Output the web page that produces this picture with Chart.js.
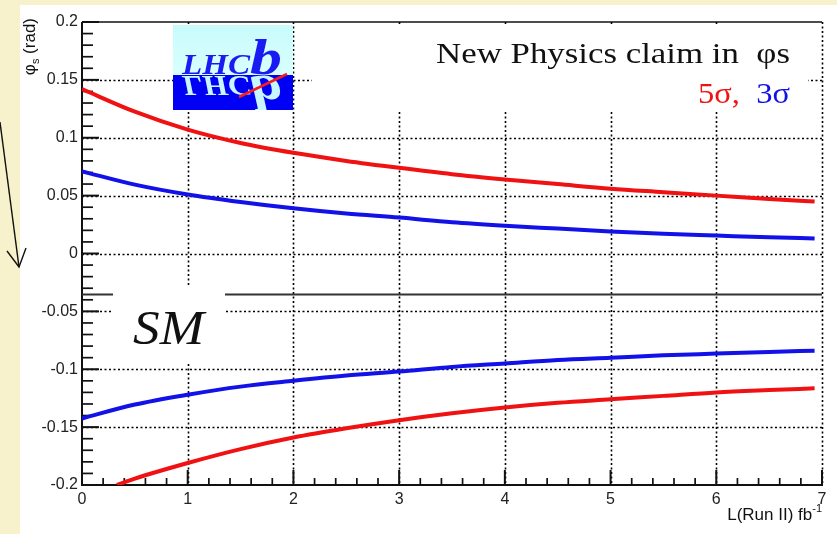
<!DOCTYPE html>
<html>
<head>
<meta charset="utf-8">
<script src="https://cdn.jsdelivr.net/npm/chart.js@4"></script>
<style>
  html, body { margin: 0; padding: 0; background: #f7f1cc; overflow: hidden; }
  canvas { display: block; }
</style>
</head>
<body>
<canvas id="c" width="837" height="534"></canvas>
<script>
// Integrated Run II luminosity (fb^-1) at which each band edge is sampled
const lumi      = [0, 0.5, 1, 1.5, 2, 2.5, 3, 3.5, 4, 4.5, 5, 5.5, 6, 6.5, 6.93];
const lumiLow5  = [0.33, 0.5, 1, 1.5, 2, 2.5, 3, 3.5, 4, 4.5, 5, 5.5, 6, 6.5, 6.93];

// phi_s (rad) needed for a New Physics claim
const upper5sigma = [0.142, 0.1225, 0.107, 0.0955, 0.087, 0.080, 0.074, 0.0685, 0.064, 0.060, 0.056, 0.053, 0.050, 0.047, 0.045];
const upper3sigma = [0.071, 0.0595, 0.051, 0.0445, 0.039, 0.0345, 0.031, 0.027, 0.024, 0.0215, 0.019, 0.017, 0.0155, 0.014, 0.013];
const lower3sigma = [-0.1425, -0.1305, -0.122, -0.115, -0.110, -0.1055, -0.102, -0.098, -0.095, -0.092, -0.090, -0.088, -0.0865, -0.085, -0.084];
const lower5sigma = [-0.200, -0.1945, -0.181, -0.169, -0.159, -0.151, -0.144, -0.138, -0.133, -0.129, -0.126, -0.123, -0.120, -0.118, -0.1165];

// Standard Model expectation
const smPhi = -0.0355;

// Axis ticks
const xTickValues = [0, 1, 2, 3, 4, 5, 6, 7];
const xTickLabels = ['0', '1', '2', '3', '4', '5', '6', '7'];
const yTickValues = [-0.2, -0.15, -0.1, -0.05, 0, 0.05, 0.1, 0.15, 0.2];
const yTickLabels = ['-0.2', '-0.15', '-0.1', '-0.05', '0', '0.05', '0.1', '0.15', '0.2'];

const RED = 'rgb(240,18,18)';
const BLUE = 'rgb(18,18,232)';
const SANS = '"Liberation Sans", Arial, sans-serif';
const SERIF = '"Liberation Serif", "DejaVu Serif", serif';

function line(ctx, x1, y1, x2, y2) {
  ctx.beginPath(); ctx.moveTo(x1, y1); ctx.lineTo(x2, y2); ctx.stroke();
}

// Draw text squeezed/stretched horizontally to a given width
function fitText(ctx, str, x, y, width, align) {
  const w = ctx.measureText(str).width;
  const k = width / w;
  ctx.save();
  ctx.translate(align === 'right' ? x - width : x, y);
  ctx.scale(k, 1);
  ctx.textAlign = 'left';
  ctx.fillText(str, 0, 0);
  ctx.restore();
}

const slideDecor = {
  id: 'slideDecor',
  beforeDraw(chart) {
    const ctx = chart.ctx;
    ctx.save();
    ctx.fillStyle = '#f7f1cc';
    ctx.fillRect(0, 0, chart.width, chart.height);
    ctx.fillStyle = '#ffffff';
    ctx.fillRect(20, 5, chart.width - 20, chart.height - 5);
    // pointer arrow in the margin
    ctx.strokeStyle = '#111';
    ctx.lineWidth = 1.4;
    line(ctx, 0, 122, 19, 267);
    ctx.beginPath();
    ctx.moveTo(7, 251); ctx.lineTo(19, 267); ctx.lineTo(26, 248);
    ctx.stroke();
    ctx.restore();
  },
  beforeDatasetsDraw(chart) {
    const { ctx, chartArea: a, scales: { x, y } } = chart;
    ctx.save();
    // dotted grid at major ticks
    ctx.strokeStyle = '#000';
    ctx.lineWidth = 1.6;
    ctx.setLineDash([2, 2.5]);
    xTickValues.slice(1).forEach(v => {
      const px = Math.round(x.getPixelForValue(v)) + 0.5;
      line(ctx, px, a.top, px, a.bottom);
    });
    yTickValues.slice(1, -1).forEach(v => {
      const py = Math.round(y.getPixelForValue(v)) + 0.5;
      line(ctx, a.left, py, a.right, py);
    });
    ctx.setLineDash([]);
    // frame
    ctx.strokeStyle = '#111';
    ctx.lineWidth = 1.5;
    line(ctx, a.left, a.top, a.right, a.top);
    ctx.lineWidth = 2;
    line(ctx, a.left, a.top, a.left, a.bottom + 1);
    line(ctx, a.left - 1, a.bottom, a.right + 1, a.bottom);
    // y ticks: major every 0.05, minor every 0.01
    for (let i = -20; i <= 20; i++) {
      const py = y.getPixelForValue(i / 100);
      const major = i % 5 === 0;
      ctx.lineWidth = major ? 2 : 1.7;
      line(ctx, a.left, py, a.left + (major ? 17 : 11), py);
    }
    // x ticks: major every 1, minor every 0.2
    for (let i = 0; i <= 35; i++) {
      const px = x.getPixelForValue(i / 5);
      const major = i % 5 === 0;
      ctx.lineWidth = major ? 2 : 1.7;
      line(ctx, px, a.bottom, px, a.bottom - (major ? 15 : 7));
    }
    ctx.restore();
  },
  afterDatasetsDraw(chart) {
    const { ctx, chartArea: a } = chart;
    ctx.save();

    // SM label
    ctx.fillStyle = '#fff';
    ctx.fillRect(113, 286, 112, 77);
    ctx.fillStyle = '#111';
    ctx.font = `italic 48px ${SERIF}`;
    ctx.textBaseline = 'alphabetic';
    fitText(ctx, 'SM', 133, 344, 71, 'left');

    // legend panel
    ctx.fillStyle = '#fff';
    ctx.fillRect(312, 24, 496, 88);
    ctx.font = `30px ${SERIF}`;
    ctx.fillStyle = '#111';
    fitText(ctx, 'New Physics claim in  \u03C6s', 790, 63, 354, 'right');
    const partB = '3\u03C3';
    const partA = '5\u03C3,  ';
    const wA = ctx.measureText(partA).width, wB = ctx.measureText(partB).width;
    const k = 92 / (wA + wB);
    ctx.save();
    ctx.translate(790 - 92, 103);
    ctx.scale(k, 1);
    ctx.fillStyle = RED; ctx.fillText(partA, 0, 0);
    ctx.fillStyle = BLUE; ctx.fillText(partB, wA, 0);
    ctx.restore();

    // experiment logo
    const lx = 173, ly = 25, lw = 120, mid = 75, lb = 110;
    const g = ctx.createLinearGradient(0, ly, 0, mid);
    g.addColorStop(0, '#c9fbfb'); g.addColorStop(1, '#d8ffff');
    ctx.fillStyle = g;
    ctx.fillRect(lx, ly, lw, mid - ly);
    ctx.fillStyle = '#0000f4';
    ctx.fillRect(lx, mid, lw, lb - mid);
    const base = mid - 1;
    const drawLogoText = (color) => {
      ctx.fillStyle = color;
      ctx.font = `italic bold 30px ${SERIF}`;
      const wL = ctx.measureText('LHC').width;
      ctx.save(); ctx.translate(182, base); ctx.scale(68 / wL, 1); ctx.fillText('LHC', 0, 0); ctx.restore();
      ctx.font = `italic bold 50px ${SERIF}`;
      const wb = ctx.measureText('b').width;
      ctx.save(); ctx.translate(250, base); ctx.scale(32 / wb, 1); ctx.fillText('b', 0, 0); ctx.restore();
    };
    ctx.save();
    ctx.beginPath(); ctx.rect(lx, ly, lw, mid - ly); ctx.clip();
    drawLogoText('#1a1af2');
    ctx.restore();
    ctx.save();
    ctx.beginPath(); ctx.rect(lx, mid, lw, lb - mid); ctx.clip();
    ctx.translate(0, 2 * mid); ctx.scale(1, -1);
    drawLogoText('#c8f6ff');
    ctx.restore();
    ctx.strokeStyle = 'rgb(245,30,30)';
    ctx.lineWidth = 2.5;
    line(ctx, 239, 97, 287, 74);

    // axis titles
    ctx.fillStyle = '#111';
    ctx.textBaseline = 'alphabetic';
    ctx.font = `11px ${SANS}`;
    const wSup = ctx.measureText('-1').width;
    ctx.textAlign = 'right';
    ctx.fillText('-1', a.right, 512);
    ctx.font = `17px ${SANS}`;
    ctx.fillText('L(Run II) fb', a.right - wSup, 520);

    ctx.save();
    ctx.translate(35, 18);
    ctx.rotate(-Math.PI / 2);
    ctx.textAlign = 'left';
    ctx.font = `17px ${SANS}`;
    const wPhi = ctx.measureText('\u03C6').width;
    const wRad = ctx.measureText(' (rad)').width;
    ctx.font = `11px ${SANS}`;
    const wS = ctx.measureText('s').width;
    let px = -(wPhi + wS + wRad);
    ctx.font = `17px ${SANS}`;
    ctx.fillText('\u03C6', px, 0); px += wPhi;
    ctx.font = `11px ${SANS}`;
    ctx.fillText('s', px, 4); px += wS;
    ctx.font = `17px ${SANS}`;
    ctx.fillText(' (rad)', px, 0);
    ctx.restore();

    ctx.restore();
  }
};

const curve = (xs, ys, color) => ({
  data: xs.map((v, i) => ({ x: v, y: ys[i] })),
  borderColor: color,
  borderWidth: 4,
  pointRadius: 0,
  fill: false,
  cubicInterpolationMode: 'monotone',
  tension: 0.4
});

new Chart(document.getElementById('c'), {
  type: 'line',
  data: {
    datasets: [
      {
        data: [{ x: 0, y: smPhi }, { x: 7, y: smPhi }],
        borderColor: '#333',
        borderWidth: 2,
        pointRadius: 0,
        fill: false
      },
      curve(lumi, upper5sigma, RED),
      curve(lumi, upper3sigma, BLUE),
      curve(lumi, lower3sigma, BLUE),
      curve(lumiLow5, lower5sigma, RED)
    ]
  },
  options: {
    responsive: false,
    devicePixelRatio: 1,
    animation: false,
    layout: { padding: { left: 20, right: 15, top: 22, bottom: 0 } },
    plugins: { legend: { display: false }, tooltip: { enabled: false } },
    scales: {
      x: {
        type: 'linear',
        min: 0, max: 7,
        afterFit(s) { s.height = 49; },
        afterBuildTicks(s) { s.ticks = xTickValues.map(v => ({ value: v })); },
        ticks: {
          callback: (v, i) => xTickLabels[i],
          font: { family: SANS, size: 16 },
          color: '#222',
          padding: 5,
          maxRotation: 0,
          autoSkip: false
        },
        grid: { display: false, drawTicks: false },
        border: { display: false }
      },
      y: {
        type: 'linear',
        min: -0.2, max: 0.2,
        afterFit(s) { s.width = 62; },
        afterBuildTicks(s) { s.ticks = yTickValues.map(v => ({ value: v })); },
        ticks: {
          callback: (v, i) => yTickLabels[i],
          font: { family: SANS, size: 16 },
          color: '#222',
          padding: 4,
          autoSkip: false
        },
        grid: { display: false, drawTicks: false },
        border: { display: false }
      }
    }
  },
  plugins: [slideDecor]
});
</script>
</body>
</html>
